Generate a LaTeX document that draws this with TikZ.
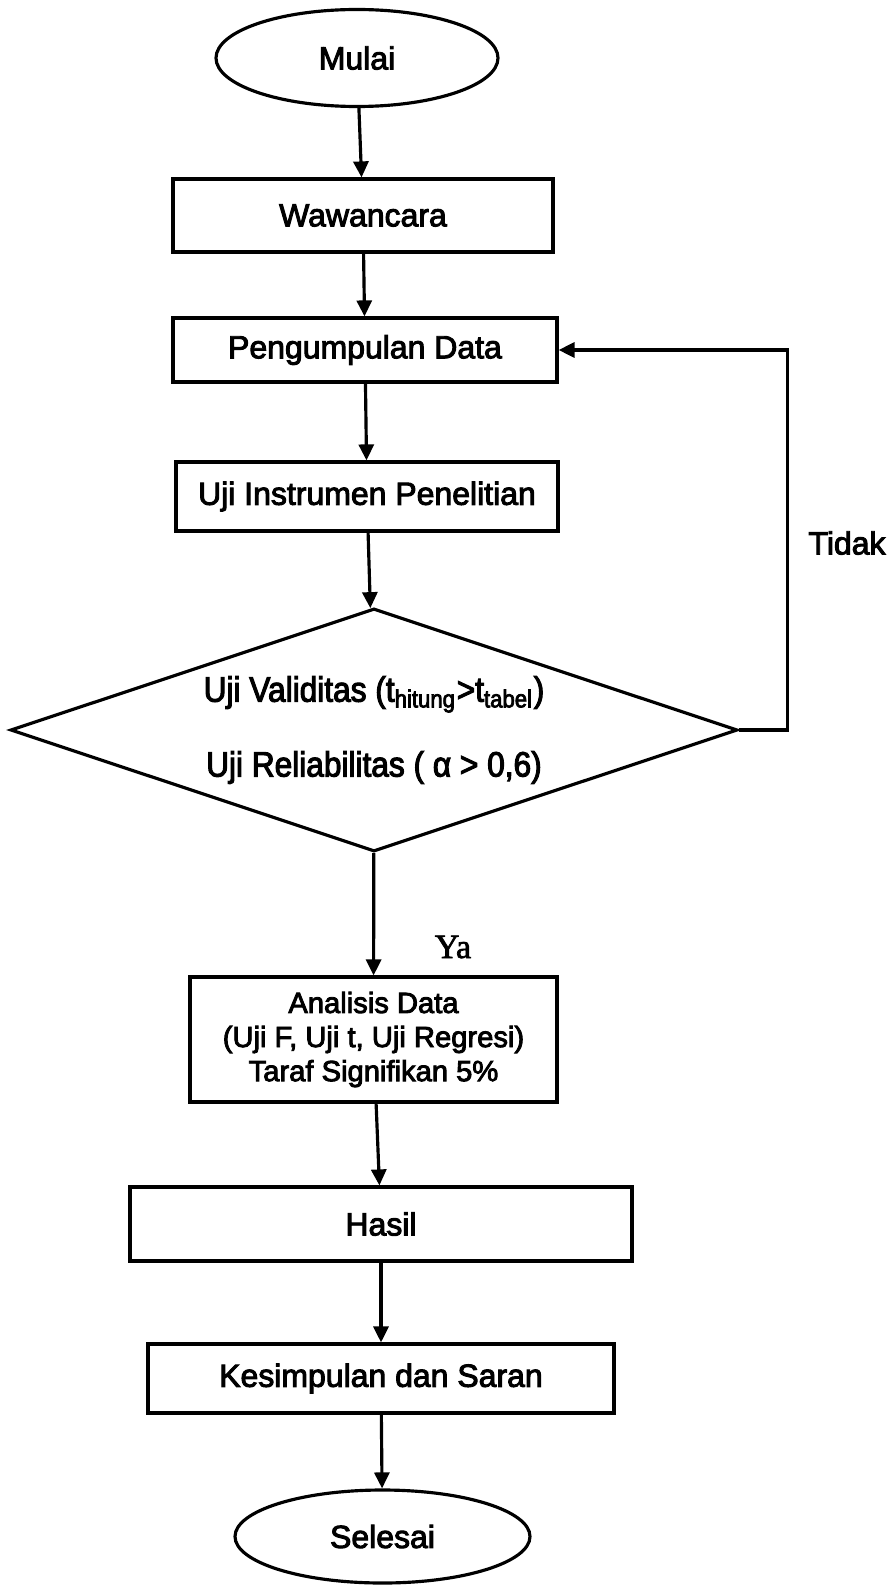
\documentclass[tikz,border=0pt]{standalone}
\usepackage{fontspec}
\setmainfont[FakeBold=3]{Liberation Sans}
\newfontfamily\yafont[FakeBold=2]{Liberation Serif}
\newfontfamily\condfont[FakeStretch=0.9,FakeBold=3]{Liberation Sans}
\usetikzlibrary{shapes.geometric,arrows.meta}

\begin{document}
\begin{tikzpicture}[line width=0.9pt, font=\fontsize{9.1pt}{11pt}\selectfont,
  stepbox/.style = {draw, rectangle, inner sep=0pt},
  terminal/.style = {draw, ellipse, inner sep=0pt},
  decision/.style = {draw, diamond, aspect=3, inner sep=0pt, align=center},
  flow/.style = {-{Triangle[length=1.6mm, width=1.5mm]}},
  note/.style = {inner sep=0pt}]
\useasboundingbox (0,0) rectangle (8.95,-15.85);

\node[terminal, minimum width=2.82cm, minimum height=0.97cm] (mulai) at (3.57,-0.58) {Mulai};
\node[stepbox, minimum width=3.80cm, minimum height=0.73cm] (wawancara) at (3.63,-2.155) {Wawancara};
\node[stepbox, minimum width=3.84cm, minimum height=0.64cm] (pengumpulan) at (3.65,-3.50) {Pengumpulan Data};
\node[stepbox, minimum width=3.82cm, minimum height=0.69cm] (instrumen) at (3.67,-4.965) {Uji Instrumen Penelitian};
\node[decision, minimum width=7.27cm, minimum height=2.43cm,
      font=\condfont\fontsize{10pt}{21.3pt}\selectfont] (uji) at (3.74,-7.30)
      {Uji Validitas (t\textsubscript{hitung}>t\textsubscript{tabel})\\Uji Reliabilitas ( α > 0,6)};
\node[stepbox, minimum width=3.67cm, minimum height=1.25cm, align=center,
      font=\fontsize{8.3pt}{9.7pt}\selectfont] (analisis) at (3.735,-10.395)
      {Analisis Data\\(Uji F, Uji t, Uji Regresi)\\Taraf Signifikan 5\%};
\node[stepbox, minimum width=5.02cm, minimum height=0.74cm] (hasil) at (3.81,-12.24) {Hasil};
\node[stepbox, minimum width=4.66cm, minimum height=0.69cm] (kesimpulan) at (3.81,-13.785) {Kesimpulan dan Saran};
\node[terminal, minimum width=2.95cm, minimum height=0.93cm] (selesai) at (3.825,-15.365) {Selesai};

% label jalur keputusan
\node[note] (tidak) at (8.47,-5.43) {Tidak};
\node[note, font=\yafont\fontsize{9.7pt}{11pt}\selectfont] (ya) at (4.53,-9.47) {Ya};

\draw[flow] (mulai) -- (wawancara);
\draw[flow] (wawancara) -- (pengumpulan);
\draw[flow] (pengumpulan) -- (instrumen);
\draw[flow] (instrumen) -- (uji);
\draw[flow] (uji) -- (analisis);
\draw[flow] (analisis) -- (hasil);
\draw[flow] (hasil) -- (kesimpulan);
\draw[flow] (kesimpulan) -- (selesai);
\draw[flow] (uji.east) -- ++(0.48,0) |- (pengumpulan.east);

\end{tikzpicture}
\end{document}
